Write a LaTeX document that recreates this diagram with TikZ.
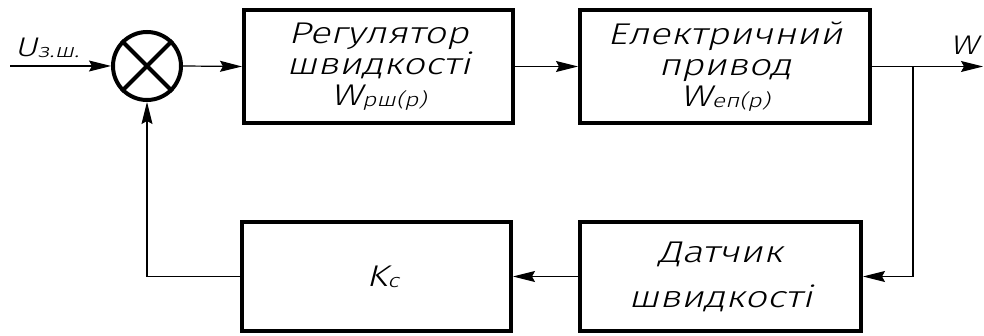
\documentclass[tikz,border=0pt]{standalone}
\usepackage{fontspec}
\setmainfont{Liberation Sans}
\IfFontExistsTF{Fira Sans Light}
  {\newfontfamily\gostfont[FakeSlant=0.25,FakeStretch=1.3]{Fira Sans Light}}
  {\newfontfamily\gostfont[FakeSlant=0.25,FakeStretch=1.4]{Liberation Sans}}
\usetikzlibrary{arrows.meta}
\begin{document}
\begin{tikzpicture}[x=1pt,y=-1pt]
% Speed control loop, drawn on a 984x336 grid
\providecommand{\blkLineWidth}{4pt}
\providecommand{\sigLineWidth}{1.2pt}
\providecommand{\lowidx}[1]{\raisebox{-1pt}{\fontsize{19}{19}\selectfont #1}}
\tikzset{
  block/.style={draw, line width=\blkLineWidth, inner sep=0pt, align=center,
    font=\fontsize{30}{31}\gostfont},
  signal/.style={line width=\sigLineWidth, -{Stealth[length=22pt,width=11pt,inset=3pt]}},
  lbl/.style={inner sep=0pt, font=\fontsize{27}{27}\gostfont},
}
\useasboundingbox (0,0) rectangle (984,336);
% Summing junction
\node[circle, draw, line width=\blkLineWidth, minimum size=68pt, inner sep=0pt] (sum) at (147,66) {};
\draw[line width=\blkLineWidth] (sum.45) -- (sum.225) (sum.135) -- (sum.315);
% Forward path
\node[block, minimum width=269pt, minimum height=113pt] (reg) at (378.5,66.5)
  {Регулятор\\швидкості\\W\lowidx{рш(р)}};
\node[block, minimum width=290pt, minimum height=113pt] (drv) at (725,66.5)
  {Електричний\\привод\\W\lowidx{еп(р)}};
% Feedback path
\node[block, minimum width=281pt, minimum height=109pt] (sens) at (720.5,276.5)
  {Датчик\\[14pt]швидкості};
\node[block, minimum width=269pt, minimum height=109pt] (kc) at (376.5,276.5)
  {\hspace{12pt}K\lowidx{с}};
% Signal labels
\node[lbl] (uref) at (47,48) {U\lowidx{з.ш.}};
\node[lbl] (wout) at (964,45) {W};
% Connectors
\coordinate (in) at (10,66);
\coordinate (out) at (983,66.5);
\coordinate (tap) at (913,66.5);
\draw[signal] (in) -- (sum.west);
\draw[signal] (sum.east) -- (reg.west);
\draw[signal] (reg.east) -- (drv.west);
\draw[signal] (drv.east) -- (out);
\draw[signal] (tap) |- (sens.east);
\draw[signal] (sens.west) -- (kc.east);
\draw[signal] (kc.west) -| (sum.south);
\end{tikzpicture}
\end{document}
